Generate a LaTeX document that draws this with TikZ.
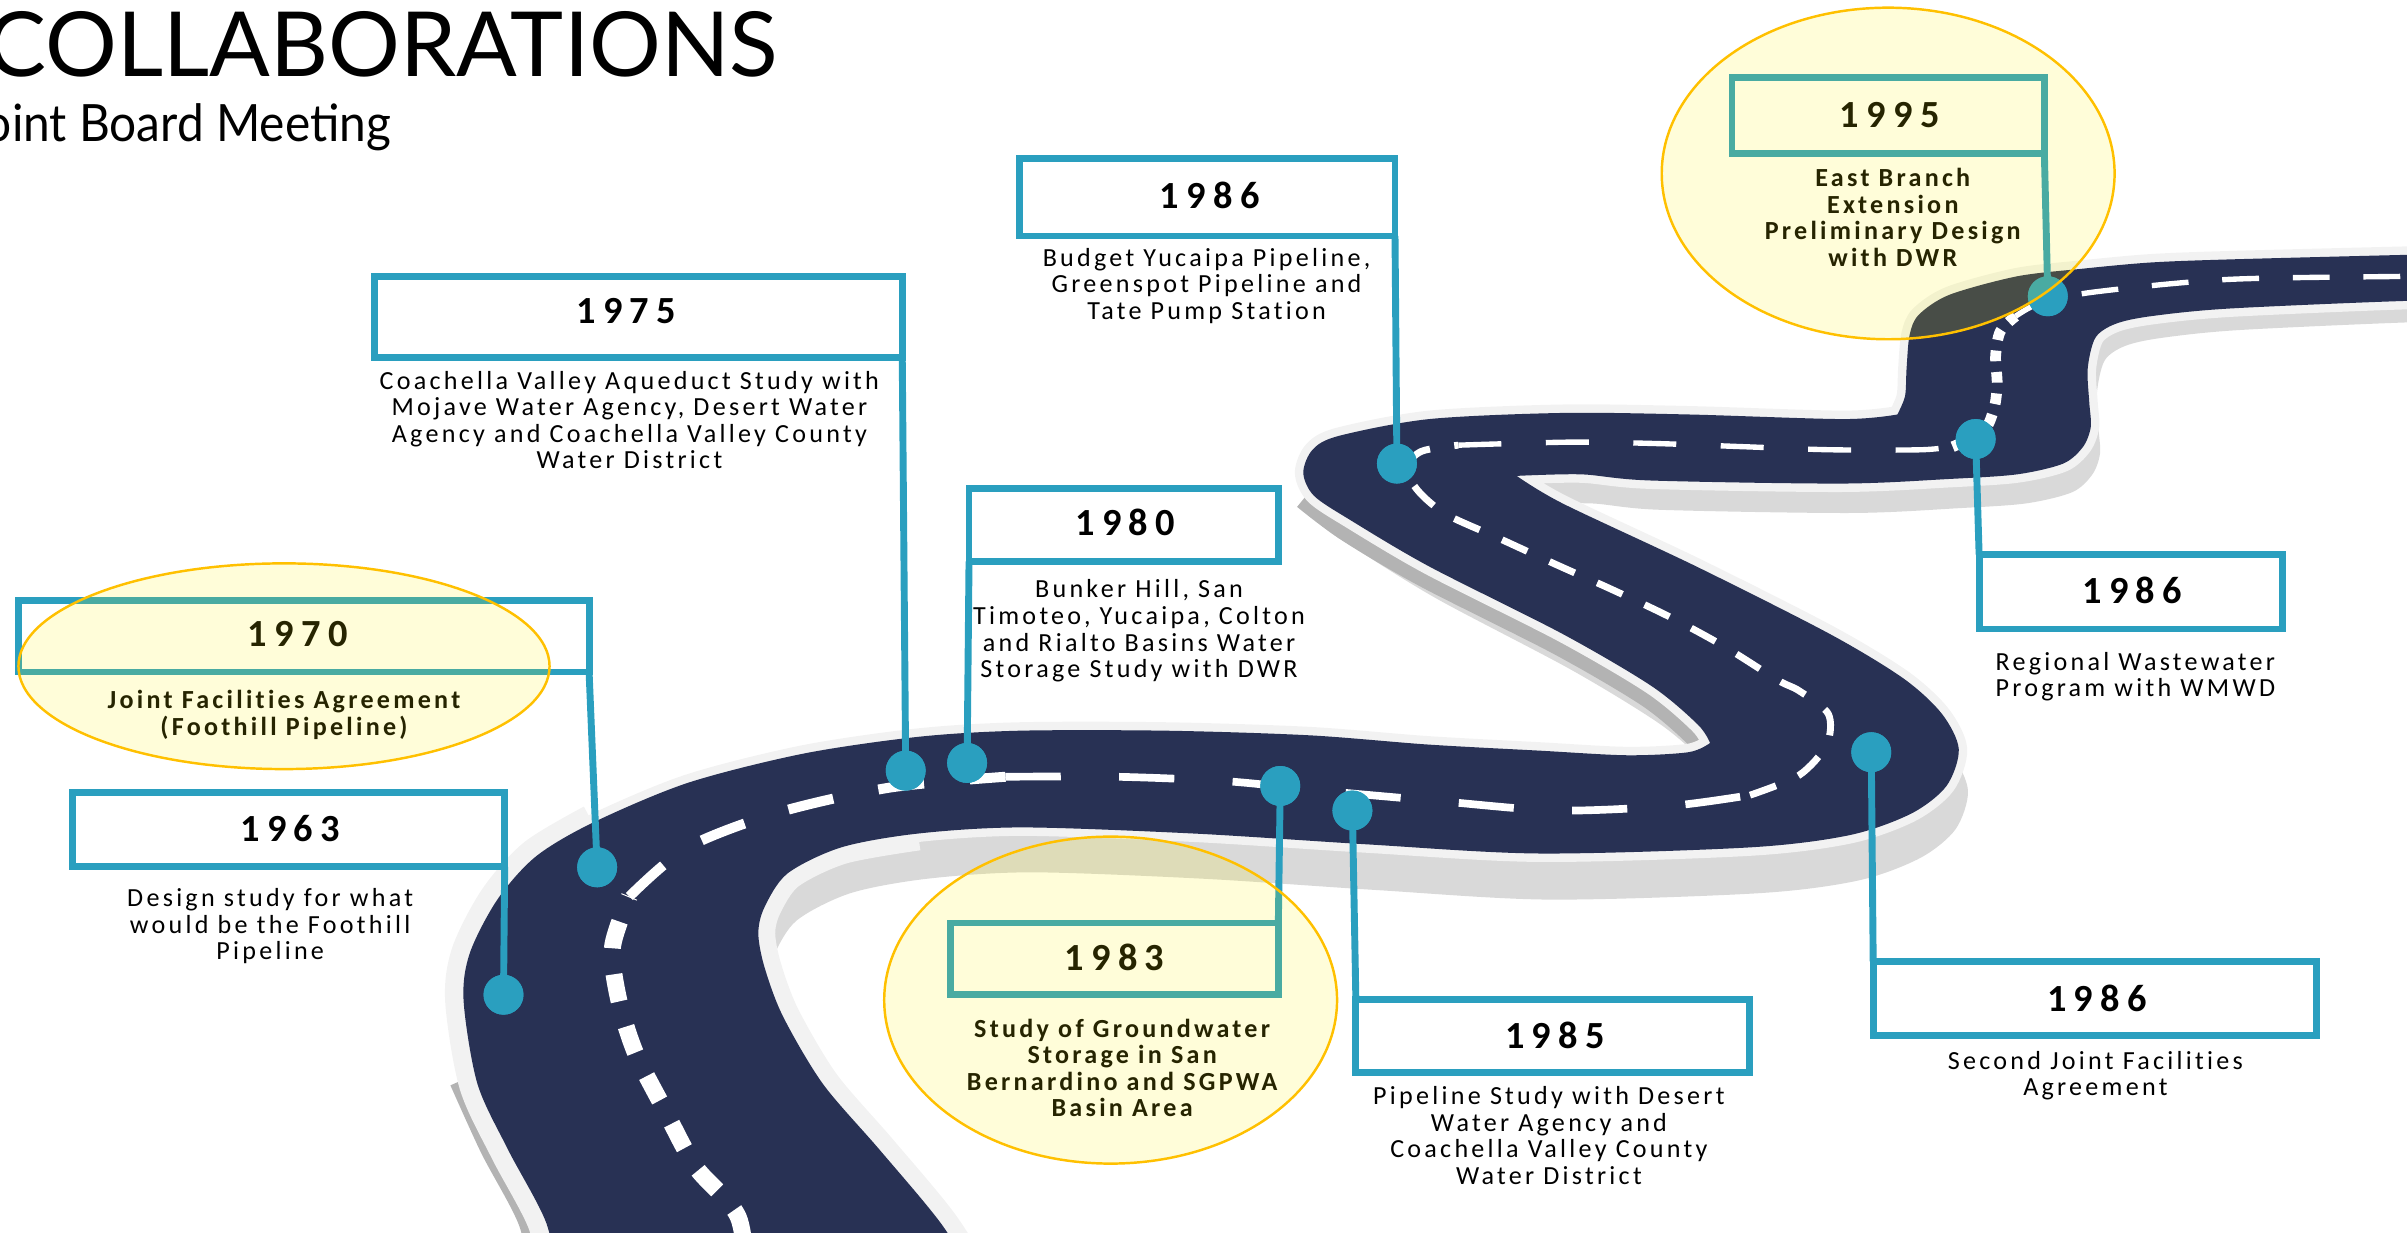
\documentclass[tikz,border=0pt]{standalone}
\usepackage{fontspec}
\setmainfont{Carlito}
\newfontfamily\titlefont{Lato}
\newfontfamily\subfont[FakeStretch=0.93]{Lato}
\newfontfamily\descfont[LetterSpace=12.5, Ligatures=NoCommon]{Carlito}
\newfontfamily\yearfont[LetterSpace=19, Ligatures=NoCommon]{Carlito}
\definecolor{tblue}{RGB}{42,159,191}
\definecolor{roadc}{RGB}{40,49,84}
\definecolor{curbc}{RGB}{242,242,242}
\definecolor{wallL}{RGB}{217,217,217}
\definecolor{wallD}{RGB}{179,179,179}
\definecolor{hl}{RGB}{255,242,0}
\definecolor{hlline}{RGB}{255,192,0}
\def\roadpath{plot[smooth] coordinates {(364,840) (356,797) (331,749) (311,706) (302,652) (306,621) (324,586) (349,558) (386,536) (448,510) (523,491) (598,480) (664,476) (760,476) (853,479) (930,485) (1003,489) (1060,492) (1100,490) (1114,484)}
 -- plot[smooth] coordinates {(1114,484) (1106,472) (1076,447) (1018,413) (931,369) (880,339) (856,323) (849,308) (855,293) (872,284) (931,273) (1018,269) (1100,270) (1201,273) (1236,270)}
 -- plot[smooth] coordinates {(1236,270) (1241,258) (1242,240) (1244,218) (1250,205) (1270,192) (1314,180) (1357,175) (1401,171) (1452,169) (1568,166) (1620,165)}
 -- plot[smooth] coordinates {(1620,196) (1568,196) (1452,201) (1401,206) (1378,211) (1365,220) (1360,240) (1361,262) (1362,278) (1357,291) (1344,302) (1314,309) (1270,312) (1200,315) (1075,313) (1030,309) (988,310)}
 -- plot[smooth] coordinates {(988,310) (1018,328) (1105,369) (1192,413) (1240,442) (1265,465) (1276,488) (1268,512) (1245,530) (1205,544) (1140,552) (1003,556) (890,550) (778,543) (666,539) (598,543) (548,552) (513,569) (498,591) (494,608) (498,630) (510,662) (536,706) (573,749) (613,797) (640,840)} -- cycle}
\begin{document}
\begin{tikzpicture}[x=1pt,y=-1pt,
  yearbox/.style={rectangle, draw=tblue, line width=4.5pt, fill=white, inner sep=0pt, outer sep=0pt},
  pin/.style={circle, fill=tblue, minimum size=26pt, inner sep=0pt},
  conn/.style={draw=tblue, line width=4.5pt},
  yeartext/.style={font=\yearfont\bfseries\fontsize{25}{30}\selectfont, anchor=base, inner sep=0pt},
  desc/.style={font=\descfont\fontsize{17}{17.3}\selectfont, align=center, anchor=north, inner sep=0pt},
  descb/.style={desc, font=\descfont\bfseries\fontsize{17}{17.3}\selectfont},
  hlell/.style={fill=hl, fill opacity=0.15, draw=hlline, draw opacity=1, line width=1.6pt},
  cline/.style={draw=white, line width=#1pt}]
\useasboundingbox (0,0) rectangle (1568,803);
\clip (0,0) rectangle (1568,803);
% ---------- road ----------
\begin{scope}[xshift=6pt, yshift=-5pt, yscale=1.045]
  \fill[wallL] \roadpath;
\end{scope}
\draw[wallD, line width=16pt, line join=round] plot[smooth] coordinates {(850,324) (878,345) (929,375) (1016,419) (1074,453) (1104,478) (1112,490)};
\draw[wallD, line width=10pt] plot[smooth] coordinates {(298,705) (318,749) (343,797) (351,840)};
\draw[curbc, line width=11pt, line join=round] \roadpath;
\draw[curbc, line width=24pt] plot[smooth] coordinates {(386,536) (349,558) (324,586) (306,621) (302,652) (311,706) (331,749) (356,797) (364,840)};
\draw[curbc, line width=22pt] plot[smooth] coordinates {(598,543) (548,552) (513,569) (498,591) (494,608) (498,630) (510,662) (536,706) (573,749) (613,797) (640,840)};
\fill[roadc] \roadpath;
% ---------- centre line ----------
\draw[cline=11, dash pattern=on 18pt off 17pt] plot[smooth] coordinates {(487,840) (481,793) (453,760) (433,723) (414,686) (403,651) (399,617) (410,584)};
\draw[cline=6.5, dash pattern=on 30pt off 30pt] plot[smooth] coordinates {(410,584) (448,552) (508,529) (580,513) (655,506)};
\draw[cline=5, dash pattern=on 36pt off 38pt] plot[smooth] coordinates {(655,506) (727,506) (800,509) (860,515) (939,522) (1014,528) (1088,525) (1140,518)};
\draw[cline=4.5, dash pattern=on 18pt off 16pt] plot[smooth] coordinates {(1140,518) (1172,505) (1190,485) (1191,465) (1172,450) (1158,443) (1123,421) (1088,402) (1050,384) (1012,367) (975,350) (942,335) (924,320) (916,305) (926,294) (950,290)};
\draw[cline=3.5, dash pattern=on 28pt off 29pt] plot[smooth] coordinates {(950,290) (1024,288) (1081,289) (1136,291) (1193,293) (1251,293) (1272,291)};
\draw[cline=7, dash pattern=on 7pt off 7pt] plot[smooth] coordinates {(1272,291) (1292,281) (1299,266) (1301,250) (1300,232) (1303,216) (1313,206)};
\draw[cline=3.5, dash pattern=on 24pt off 22pt] plot[smooth] coordinates {(1313,206) (1330,197) (1366,190) (1452,182) (1568,180) (1620,179)};
% ---------- title ----------
\node[anchor=base east, inner sep=0pt, font=\titlefont\fontsize{58.5}{60}\selectfont] (title) at (507,50) {COLLABORATIONS};
\node[anchor=base east, inner sep=0pt, font=\subfont\fontsize{33.5}{36}\selectfont] (subtitle) at (255,92) {Joint Board Meeting};
% ---------- boxes ----------
\node[yearbox, minimum width=281.5pt, minimum height=48.5pt] (b1963) at (188,540.5) {};
\node[yearbox, minimum width=371.5pt, minimum height=46.5pt] (b1970) at (198,414.5) {};
\node[yearbox, minimum width=343.5pt, minimum height=52.5pt] (b1975) at (416,206.5) {};
\node[yearbox, minimum width=201.5pt, minimum height=47.5pt] (b1980) at (732,342) {};
\node[yearbox, minimum width=244.5pt, minimum height=50.5pt] (b1986a) at (786.5,128.5) {};
\node[yearbox, minimum width=213.5pt, minimum height=46.5pt] (b1983) at (726,624.5) {};
\node[yearbox, minimum width=256.5pt, minimum height=47.5pt] (b1985) at (1011.5,675) {};
\node[yearbox, minimum width=203.5pt, minimum height=49.5pt] (b1995) at (1230,75) {};
\node[yearbox, minimum width=197.5pt, minimum height=48.5pt] (b1986b) at (1388,385.5) {};
\node[yearbox, minimum width=288.5pt, minimum height=48.5pt] (b1986c) at (1364.5,650.5) {};
% ---------- pins ----------
\node[pin] (p1963) at (328,648) {};
\node[pin] (p1970) at (389,565) {};
\node[pin] (p1975) at (590,502) {};
\node[pin] (p1980) at (630,497) {};
\node[pin] (p1983) at (834,512) {};
\node[pin] (p1985) at (881,528) {};
\node[pin] (p1986a) at (910,302) {};
\node[pin] (p1986b) at (1287,286) {};
\node[pin] (p1986c) at (1219,490) {};
\node[pin] (p1995) at (1334,193) {};
% ---------- connectors ----------
\draw[conn] (b1963.south east) -- (p1963.center);
\draw[conn] (b1970.south east) -- (p1970.center);
\draw[conn] (b1975.south east) -- (p1975.center);
\draw[conn] (b1980.south west) -- (p1980.center);
\draw[conn] (b1986a.south east) -- (p1986a.center);
\draw[conn] (b1983.north east) -- (p1983.center);
\draw[conn] (b1985.north west) -- (p1985.center);
\draw[conn] (b1995.south east) -- (p1995.center);
\draw[conn] (b1986b.north west) -- (p1986b.center);
\draw[conn] (b1986c.north west) -- (p1986c.center);
\foreach \p in {p1963,p1970,p1975,p1980,p1983,p1985,p1986a,p1986b,p1986c,p1995}
  \fill[tblue] (\p) circle (13);
% ---------- years ----------
\node[yeartext] (y1963) at (189,548) {1963};
\node[yeartext] (y1970) at (194,421) {1970};
\node[yeartext] (y1975) at (408,211) {1975};
\node[yeartext] (y1980) at (733,349) {1980};
\node[yeartext] (y1986a) at (788,136) {1986};
\node[yeartext] (y1983) at (726,632) {1983};
\node[yeartext] (y1985) at (1013,683) {1985};
\node[yeartext] (y1995) at (1231,83) {1995};
\node[yeartext] (y1986b) at (1389,393) {1986};
\node[yeartext] (y1986c) at (1366,659) {1986};
% ---------- descriptions ----------
\node[desc] (d1963) at (176,578.5) {Design study for what\\would be the Foothill\\Pipeline};
\node[descb] (d1970) at (185,449.5) {Joint Facilities Agreement\\(Foothill Pipeline)};
\node[desc] (d1975) at (410,241.5) {Coachella Valley Aqueduct Study with\\Mojave Water Agency, Desert Water\\Agency and Coachella Valley County\\Water District};
\node[desc] (d1980) at (742,377.5) {Bunker Hill, San\\Timoteo, Yucaipa, Colton\\and Rialto Basins Water\\Storage Study with DWR};
\node[desc] (d1986a) at (786,161.5) {Budget Yucaipa Pipeline,\\Greenspot Pipeline and\\Tate Pump Station};
\node[descb] (d1983) at (731,663.5) {Study of Groundwater\\Storage in San\\Bernardino and SGPWA\\Basin Area};
\node[desc] (d1985) at (1009,707.5) {Pipeline Study with Desert\\Water Agency and\\Coachella Valley County\\Water District};
\node[descb] (d1995) at (1233,109.5) {East Branch\\Extension\\Preliminary Design\\with DWR};
\node[desc] (d1986b) at (1391,424.5) {Regional Wastewater\\Program with WMWD};
\node[desc] (d1986c) at (1365,684.5) {Second Joint Facilities\\Agreement};
% ---------- highlight ellipses ----------
\draw[hlell] (185,434) ellipse [x radius=173, y radius=67];
\draw[hlell] (723.5,651.5) ellipse [x radius=147.5, y radius=106.5];
\draw[hlell] (1230,113) ellipse [x radius=147.5, y radius=108];
\end{tikzpicture}
\end{document}
